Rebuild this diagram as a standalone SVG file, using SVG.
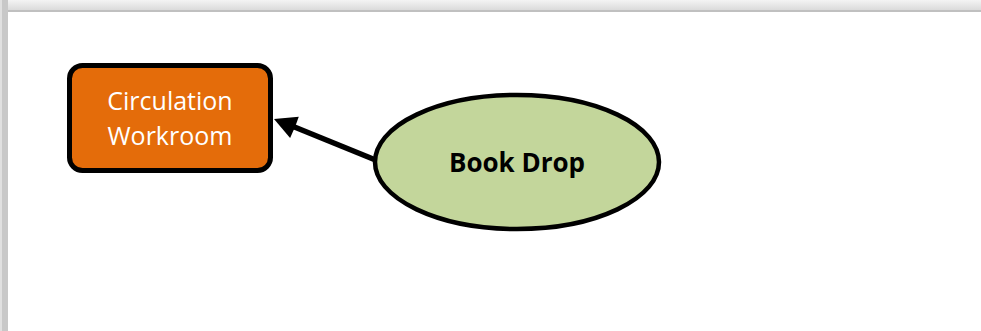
<svg xmlns="http://www.w3.org/2000/svg" width="981" height="331" viewBox="0 0 981 331">
<defs>
<linearGradient id="topg" x1="0" y1="0" x2="0" y2="1"><stop offset="0" stop-color="#f4f4f4"/><stop offset="0.8" stop-color="#dcdcdc"/><stop offset="1" stop-color="#bfbfbf"/></linearGradient>
</defs>
<style>
.lbl{font-family:"Open Sans","Liberation Sans",sans-serif;font-size:25px;text-anchor:middle}
.bold{font-size:26px;font-weight:bold}
.conn{stroke:#000;stroke-width:5.5;fill:none}
.head{fill:#000}
</style>
<rect x="0" y="0" width="981" height="331" fill="#ffffff"/>
<rect x="0" y="0" width="981" height="12" fill="url(#topg)"/>
<rect x="0" y="0" width="8" height="331" fill="#c8c8c8"/>
<rect x="0" y="0" width="2" height="331" fill="#e0e0e0"/>
<rect x="8" y="10" width="973" height="2" fill="#c0c0c0"/>
<g id="connectors">
<line class="conn" x1="378" y1="161" x2="292" y2="126"/>
<polygon class="head" points="274,119 298.8,116.7 295,127 290.1,138"/>
</g>
<g id="circulation-workroom">
<rect x="69.5" y="65.5" width="201" height="105" rx="13" ry="13" fill="#E46C0A" stroke="#000" stroke-width="5"/>
<text class="lbl" x="170" y="110" fill="#fff">Circulation</text>
<text class="lbl" x="170" y="145" fill="#fff">Workroom</text>
</g>
<g id="book-drop">
<ellipse cx="517" cy="162" rx="142" ry="67" fill="#C3D69B" stroke="#000" stroke-width="4.5"/>
<text class="lbl bold" x="517" y="172" fill="#000">Book Drop</text>
</g>
</svg>
